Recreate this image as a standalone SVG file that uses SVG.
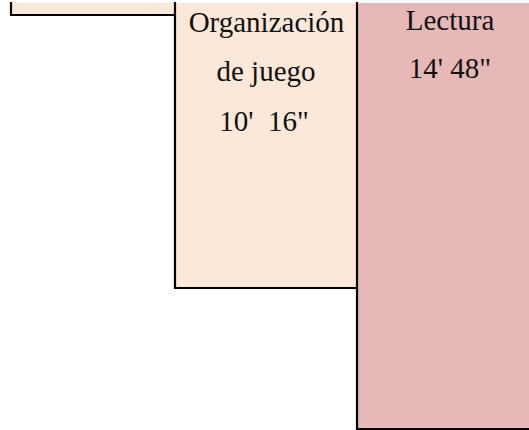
<svg xmlns="http://www.w3.org/2000/svg" width="529" height="430" viewBox="0 0 529 430">
<style>
.peach{fill:#FCE8D9}
.pink{fill:#E6B8B7}
.edge{fill:none;stroke:#000;stroke-width:2.2;stroke-linecap:square}
.t{font-family:'Liberation Serif',Tinos,'Times New Roman','DejaVu Serif',serif;font-size:29px;fill:#111;text-anchor:middle}
</style>
<rect width="529" height="430" fill="#fff"/>
<g id="node-left">
<rect class="peach" x="11" y="3" width="164" height="12"/>
<path class="edge" d="M11 3 V15 H175"/>
</g>
<g id="node-organizacion">
<rect class="peach" x="175" y="3" width="182" height="285"/>
<path class="edge" d="M175 3 V288 H357"/>
<text class="t" x="266.5" y="31.5" font-family="Liberation Serif, serif">Organización</text>
<text class="t" x="266" y="80.5" font-family="Liberation Serif, serif">de juego</text>
<text class="t" x="264" y="130.5" font-family="Liberation Serif, serif" xml:space="preserve">10'  16"</text>
</g>
<g id="node-lectura">
<rect class="pink" x="357" y="3" width="172" height="426"/>
<path class="edge" d="M357 3 V429 H530"/>
<text class="t" x="450" y="29.5" font-family="Liberation Serif, serif">Lectura</text>
<text class="t" x="450" y="78" font-family="Liberation Serif, serif">14' 48"</text>
</g>
<g id="connectors"></g>
</svg>
